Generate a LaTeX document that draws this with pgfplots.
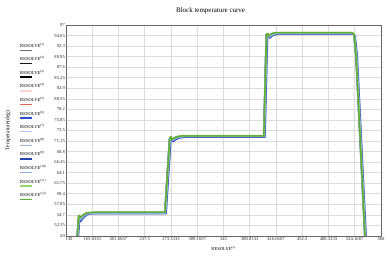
\documentclass[border=0pt]{standalone}
\usepackage{pgfplots}
\pgfplotsset{compat=1.18}
\usepackage{fontspec}
\setmainfont{Liberation Serif}
\definecolor{c1}{RGB}{110,110,110}
\definecolor{c2}{RGB}{20,20,20}
\definecolor{c3}{RGB}{0,0,0}
\definecolor{c4}{RGB}{248,212,204}
\definecolor{c5}{RGB}{228,98,88}
\definecolor{c6}{RGB}{40,80,200}
\definecolor{c7}{RGB}{185,190,240}
\definecolor{c8}{RGB}{150,175,225}
\definecolor{c9}{RGB}{35,70,170}
\definecolor{c10}{RGB}{140,175,230}
\definecolor{c11}{RGB}{150,210,110}
\definecolor{c12}{RGB}{95,175,55}
\begin{document}
\begin{tikzpicture}
\useasboundingbox (-66bp,-33bp) rectangle (323bp,236bp);
\begin{axis}[
  scale only axis, width=315bp, height=211bp, at={(0,0)}, anchor=south west,
  xmin=130, xmax=560, ymin=50, ymax=97,
  xtick={130,165.8333,201.6667,237.5,273.3333,309.1667,345,380.8333,416.6667,452.5,488.3333,524.1667,560},
  xticklabels={\hspace*{6bp}130,165.8333,201.6667,237.5,273.3333,309.1667,345,380.8333,416.6667,452.5,488.3333,524.1667,560},
  ytick={50,52.35,54.7,57.05,59.4,61.75,64.1,66.45,68.8,71.15,73.5,75.85,78.2,80.55,82.9,85.25,87.6,89.95,92.3,94.65,97},
  yticklabels={50,52.35,54.7,57.05,59.4,61.75,64.1,66.45,68.8,71.15,73.5,75.85,78.2,80.55,82.9,85.25,87.6,89.95,92.3,94.65,97},
  tick label style={font=\fontsize{4.6}{5}\selectfont, text=black!85, inner sep=1bp},
  grid=major, major grid style={black!14, line width=0.7pt},
  axis line style={black!60, line width=0.8pt},
  tick style={draw=none},
  title={Block temperature curve},
  title style={font=\fontsize{7}{8}\selectfont, at={(axis description cs:0.459,1)}, anchor=center, yshift=8bp},
  xlabel={RESOLVE\textsuperscript{(s)}},
  xlabel style={font=\fontsize{4.6}{5}\selectfont, at={(axis description cs:0.5,0)}, anchor=center, yshift=-12bp},
  ylabel={Temperature(deg)},
  ylabel style={font=\fontsize{5.5}{6}\selectfont, at={(axis description cs:-0.184,0.5)}, anchor=center},
  legend cell align=left,
  legend style={at={(axis description cs:-0.146,0.915)}, anchor=north west, draw=none, fill=none,
    font=\fontsize{4.6}{5}\selectfont, inner sep=0pt, column sep=0pt, row sep=8.6bp,
    nodes={inner sep=0pt, text height=4bp, text depth=1bp}},
  legend image code/.code={\draw[#1, overlay] (0bp,-4.5bp) -- (12bp,-4.5bp);},
  every axis plot/.append style={line join=round},
]
% 1
\addplot[c1, line width=1.2pt] coordinates {(143,40) (145.5,50.5) (147.5,54.5) (149,54.0) (152,54.4) (156,54.9) (160,55.1) (170,55.2) (265,55.2) (271.5,71.7) (273,72.0) (274.5,71.4) (278,71.8) (283,72.1) (290,72.2) (400,72.2) (403.5,94.8) (405,95.0) (406.5,94.5) (410,94.9) (415,95.2) (520,95.2) (523,94.9) (526,90) (538,50) (540,44)};
% 2
\addplot[c2, line width=1.2pt] coordinates {(143.2,40) (145.7,50.5) (147.7,54.5) (149.2,54.0) (152.2,54.4) (156.2,54.9) (160.2,55.1) (170,55.2) (265.2,55.2) (271.7,71.7) (273.2,72.0) (274.7,71.4) (278.2,71.8) (283.2,72.1) (290,72.2) (400.2,72.2) (403.7,94.8) (405.2,95.0) (406.7,94.5) (410.2,94.9) (415.2,95.2) (520.2,95.2) (523.2,94.9) (526.2,90) (538.2,50) (540.2,44)};
% 3
\addplot[c3, line width=1.8pt] coordinates {(143.1,40) (145.6,50.5) (147.6,54.5) (149.1,54.0) (152.1,54.4) (156.1,54.9) (160.1,55.1) (170,55.2) (265.1,55.2) (271.6,71.7) (273.1,72.0) (274.6,71.4) (278.1,71.8) (283.1,72.1) (290,72.2) (400.1,72.2) (403.6,94.8) (405.1,95.0) (406.6,94.5) (410.1,94.9) (415.1,95.2) (520.1,95.2) (523.1,94.9) (526.1,90) (538.1,50) (540.1,44)};
% 4
\addplot[c4, line width=1.2pt] coordinates {(143.3,40) (145.8,50.5) (147.8,54.5) (149.3,54.0) (152.3,54.4) (156.3,54.9) (160.3,55.1) (170,55.2) (265.3,55.2) (271.8,71.7) (273.3,72.0) (274.8,71.4) (278.3,71.8) (283.3,72.1) (290,72.2) (400.3,72.2) (403.8,94.8) (405.3,95.0) (406.8,94.5) (410.3,94.9) (415.3,95.2) (520.3,95.2) (523.3,94.9) (526.3,90) (538.3,50) (540.3,44)};
% 5
\addplot[c5, line width=1.2pt] coordinates {(143.2,40) (145.7,50.5) (147.7,54.5) (149.2,54.0) (152.2,54.4) (156.2,54.9) (160.2,55.1) (170,55.2) (265.2,55.2) (271.7,71.7) (273.2,72.0) (274.7,71.4) (278.2,71.8) (283.2,72.1) (290,72.2) (400.2,72.2) (403.7,94.8) (405.2,95.0) (406.7,94.5) (410.2,94.9) (415.2,95.2) (520.2,95.2) (523.2,94.9) (526.2,90) (538.2,50) (540.2,44)};
% 6
\addplot[c6, line width=1.4pt] coordinates {(143.8,40) (146.2,50.5) (148,54.0) (149.5,53.6) (152.8,54.3) (157.5,54.9) (162,55.1) (170,55.15) (265.8,55.15) (272.2,71.6) (273.8,71.9) (275.3,71.2) (278.8,71.7) (284.5,72.05) (292,72.15) (400.8,72.15) (404.2,94.7) (405.8,94.9) (407.3,94.3) (410.8,94.8) (416.5,95.15) (520.8,95.15) (523.8,94.8) (526.8,90) (538.8,50) (540.8,44)};
% 7
\addplot[c7, line width=1.4pt] coordinates {(145,40) (147.4,50.5) (149.2,53.7) (150.8,53.3) (154.5,54.0) (159.5,54.7) (165,54.95) (172,55.0) (267,55.0) (273.4,71.4) (275,71.7) (276.6,71.0) (280,71.5) (286,71.9) (294,72.0) (402,72.0) (405.4,94.5) (407,94.7) (408.6,94.1) (412,94.6) (418,95.0) (522,95.0) (525,94.6) (528,90) (540,50) (542,44)};
% 8
\addplot[c8, line width=1.4pt] coordinates {(142.6,40) (145,50.5) (147.2,54.3) (148.8,53.9) (151.8,54.35) (155.8,54.85) (159.8,55.05) (170,55.15) (264.6,55.15) (271,71.6) (272.6,71.9) (274.2,71.3) (277.6,71.75) (282.6,72.05) (290,72.15) (399.6,72.15) (403,94.7) (404.6,94.9) (406.2,94.4) (409.6,94.8) (414.6,95.15) (519.6,95.15) (522.6,94.8) (525.6,90) (537.6,50) (539.6,44)};
% 9
\addplot[c9, line width=1.5pt] coordinates {(144.5,40) (147,50.5) (148.5,53.6) (150,53.3) (153.5,54.1) (158.5,54.8) (164,55.0) (172,55.0) (266.5,55.0) (273,71.5) (274.5,71.7) (276,71.0) (279.5,71.5) (286,71.9) (294,72.0) (401.5,72.0) (405,94.5) (406.5,94.7) (408,94.1) (411.5,94.6) (418,95.0) (521.5,95.0) (524.5,94.6) (527.5,90) (539.5,50) (541.5,44)};
% 10
\addplot[c10, line width=1.4pt] coordinates {(144,40) (146.4,50.5) (148.2,54.0) (149.8,53.6) (153,54.25) (157.8,54.85) (162.5,55.05) (170,55.1) (266,55.1) (272.4,71.6) (274,71.85) (275.5,71.2) (279,71.65) (285,72.0) (292,72.1) (401,72.1) (404.4,94.6) (406,94.85) (407.5,94.3) (411,94.7) (417,95.1) (521,95.1) (524,94.7) (527,90) (539,50) (541,44)};
% 11
\addplot[c11, line width=1.4pt] coordinates {(143.4,40) (145.9,50.5) (147.9,54.6) (149.4,54.1) (152.4,54.5) (156.4,55.0) (160.4,55.2) (170,55.3) (265.4,55.3) (271.9,71.8) (273.4,72.1) (274.9,71.5) (278.4,71.9) (283.4,72.2) (290,72.3) (400.4,72.3) (403.9,94.9) (405.4,95.1) (406.9,94.6) (410.4,95.0) (415.4,95.3) (520.4,95.3) (523.4,95.0) (526.4,90) (538.4,50) (540.4,44)};
% 12
\addplot[c12, line width=1.5pt] coordinates {(143,40) (145.5,50.5) (147.5,54.6) (149,54.1) (152,54.5) (156,55.0) (160,55.2) (170,55.3) (265,55.3) (271.5,71.8) (273,72.1) (274.5,71.5) (278,71.9) (283,72.2) (290,72.3) (400,72.3) (403.5,94.9) (405,95.1) (406.5,94.6) (410,95.0) (415,95.3) (520,95.3) (523,95.0) (526,90) (538,50) (540,44)};
\legend{RESOLVE\textsuperscript{(1)},RESOLVE\textsuperscript{(2)},RESOLVE\textsuperscript{(3)},RESOLVE\textsuperscript{(4)},RESOLVE\textsuperscript{(5)},RESOLVE\textsuperscript{(6)},RESOLVE\textsuperscript{(7)},RESOLVE\textsuperscript{(8)},RESOLVE\textsuperscript{(9)},RESOLVE\textsuperscript{(10)},RESOLVE\textsuperscript{(11)},RESOLVE\textsuperscript{(12)}}
\node[font=\fontsize{6}{7}\selectfont] at (axis description cs:0.5,-0.142) {Time(sec)};
\node[font=\fontsize{4.6}{5}\selectfont] at (axis description cs:0.019,-0.066) {130};
\node[font=\fontsize{4.6}{5}\selectfont] at (axis description cs:0.971,-0.066) {560};
\node[font=\fontsize{4.6}{5}\selectfont] at (axis description cs:-0.063,0.967) {97};
\node[font=\fontsize{4.6}{5}\selectfont] at (axis description cs:-0.054,0.033) {50};
\end{axis}
\end{tikzpicture}
\end{document}
